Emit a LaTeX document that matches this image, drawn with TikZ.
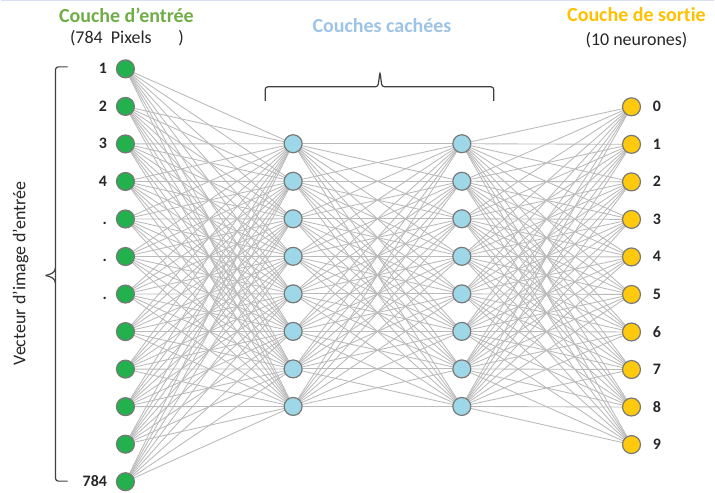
\documentclass[tikz,border=0pt]{standalone}
\usepackage{fontspec}
\setmainfont{Carlito}[Ligatures=CommonOff]
\usetikzlibrary{backgrounds}

\definecolor{inGreen}{RGB}{34,177,76}
\definecolor{hidBlue}{RGB}{158,216,232}
\definecolor{outYellow}{RGB}{255,201,14}
\definecolor{titleGreen}{RGB}{112,173,71}
\definecolor{titleBlue}{RGB}{157,195,230}
\definecolor{titleOrange}{RGB}{255,192,0}
\definecolor{labelGray}{RGB}{38,38,38}

\tikzset{every picture/.style={line width=0.75pt}}

\begin{document}
\begin{tikzpicture}[x=0.75pt,y=0.75pt,yscale=-1,xscale=1,
    neuron/.style={circle,draw={rgb,255:red,120;green,120;blue,120},line width=0.9pt,minimum size=13.5pt,inner sep=0pt},
    link/.style={draw={rgb,255:red,186;green,186;blue,186},line width=0.65pt},
    numlabel/.style={inner sep=0pt,text height=7.6pt,text depth=0pt,font=\fontsize{12}{14}\selectfont\bfseries,text=labelGray},
    brace/.style={draw={rgb,255:red,64;green,64;blue,64},line width=0.9pt,rounded corners=2pt},
    title/.style={inner sep=0.75pt,font=\fontsize{15}{18}\selectfont\bfseries},
    subtitle/.style={inner sep=0.75pt,font=\fontsize{13.5}{16}\selectfont,text=labelGray}]
    \path (0,0) rectangle (715,493); %diagram size

    %top border
    \draw [color={rgb, 255:red, 218; green, 224; blue, 242 }, line width=1pt] (0,0.7) -- (715,0.7) ;

    %Input layer
    \foreach \i in {1,...,12}
        \node [neuron, fill=inGreen] (in\i) at (125,{69+37.6*(\i-1)}) {};
    %Hidden layers
    \foreach \j in {1,...,8} {
        \node [neuron, fill=hidBlue] (ha\j) at (293,{144+37.6*(\j-1)}) {};
        \node [neuron, fill=hidBlue] (hb\j) at (462,{144+37.6*(\j-1)}) {};
    }
    %Output layer
    \foreach \k in {0,...,9}
        \node [neuron, fill=outYellow] (out\k) at (632,{107+37.6*\k}) {};

    %Connections
    \begin{scope}[on background layer]
        \foreach \i in {1,...,12}
            \foreach \j in {1,...,8}
                \draw [link] (in\i.center) -- (ha\j.center) ;
        \foreach \i in {1,...,8}
            \foreach \j in {1,...,8}
                \draw [link] (ha\i.center) -- (hb\j.center) ;
        \foreach \i in {1,...,8}
            \foreach \k in {0,...,9}
                \draw [link] (hb\i.center) -- (out\k.center) ;
    \end{scope}

    % Input labels
    \foreach \i/\t in {1/1,2/2,3/3,4/4,5/.,6/.,7/.,12/784}
        \node [numlabel, anchor=east] (lin\i) at (107,{69+37.6*(\i-1)}) {\t};
    % Output labels
    \foreach \k in {0,...,9}
        \node [numlabel, anchor=west] (lout\k) at (653,{107+37.6*\k}) {\k};

    %Left bracket
    \draw [brace] (67,67) -- (55,67) -- (55,482) -- (67,482) ;
    \draw [brace, rounded corners=0pt] (55,268) .. controls (55,273) and (50,275) .. (45,276) ;
    \draw [brace, rounded corners=0pt] (55,284) .. controls (55,279) and (50,277) .. (45,276) ;
    %Top brace
    \draw [brace] (265,101) -- (265,87) -- (378,87) -- (380,72) -- (382,87) -- (494,87) -- (494,101) ;

    % Text Node
    \node [title, text=titleGreen] (tin) at (126,15) {Couche d’entrée};
    % Text Node
    \node [subtitle, anchor=west] (tinpx) at (68,38) {(784\ \ Pixels\hspace{20pt})};
    % Text Node
    \node [title, text=titleBlue] (thid) at (382,26) {Couches cachées};
    % Text Node
    \node [title, text=titleOrange] (tout) at (637,15) {Couche de sortie};
    % Text Node
    \node [subtitle] (toutn) at (637,40) {(10 neurones)};
    % Text Node
    \node [subtitle, rotate=90] (tvec) at (20,274) {Vecteur d’image d’entrée};

\end{tikzpicture}
\end{document}
